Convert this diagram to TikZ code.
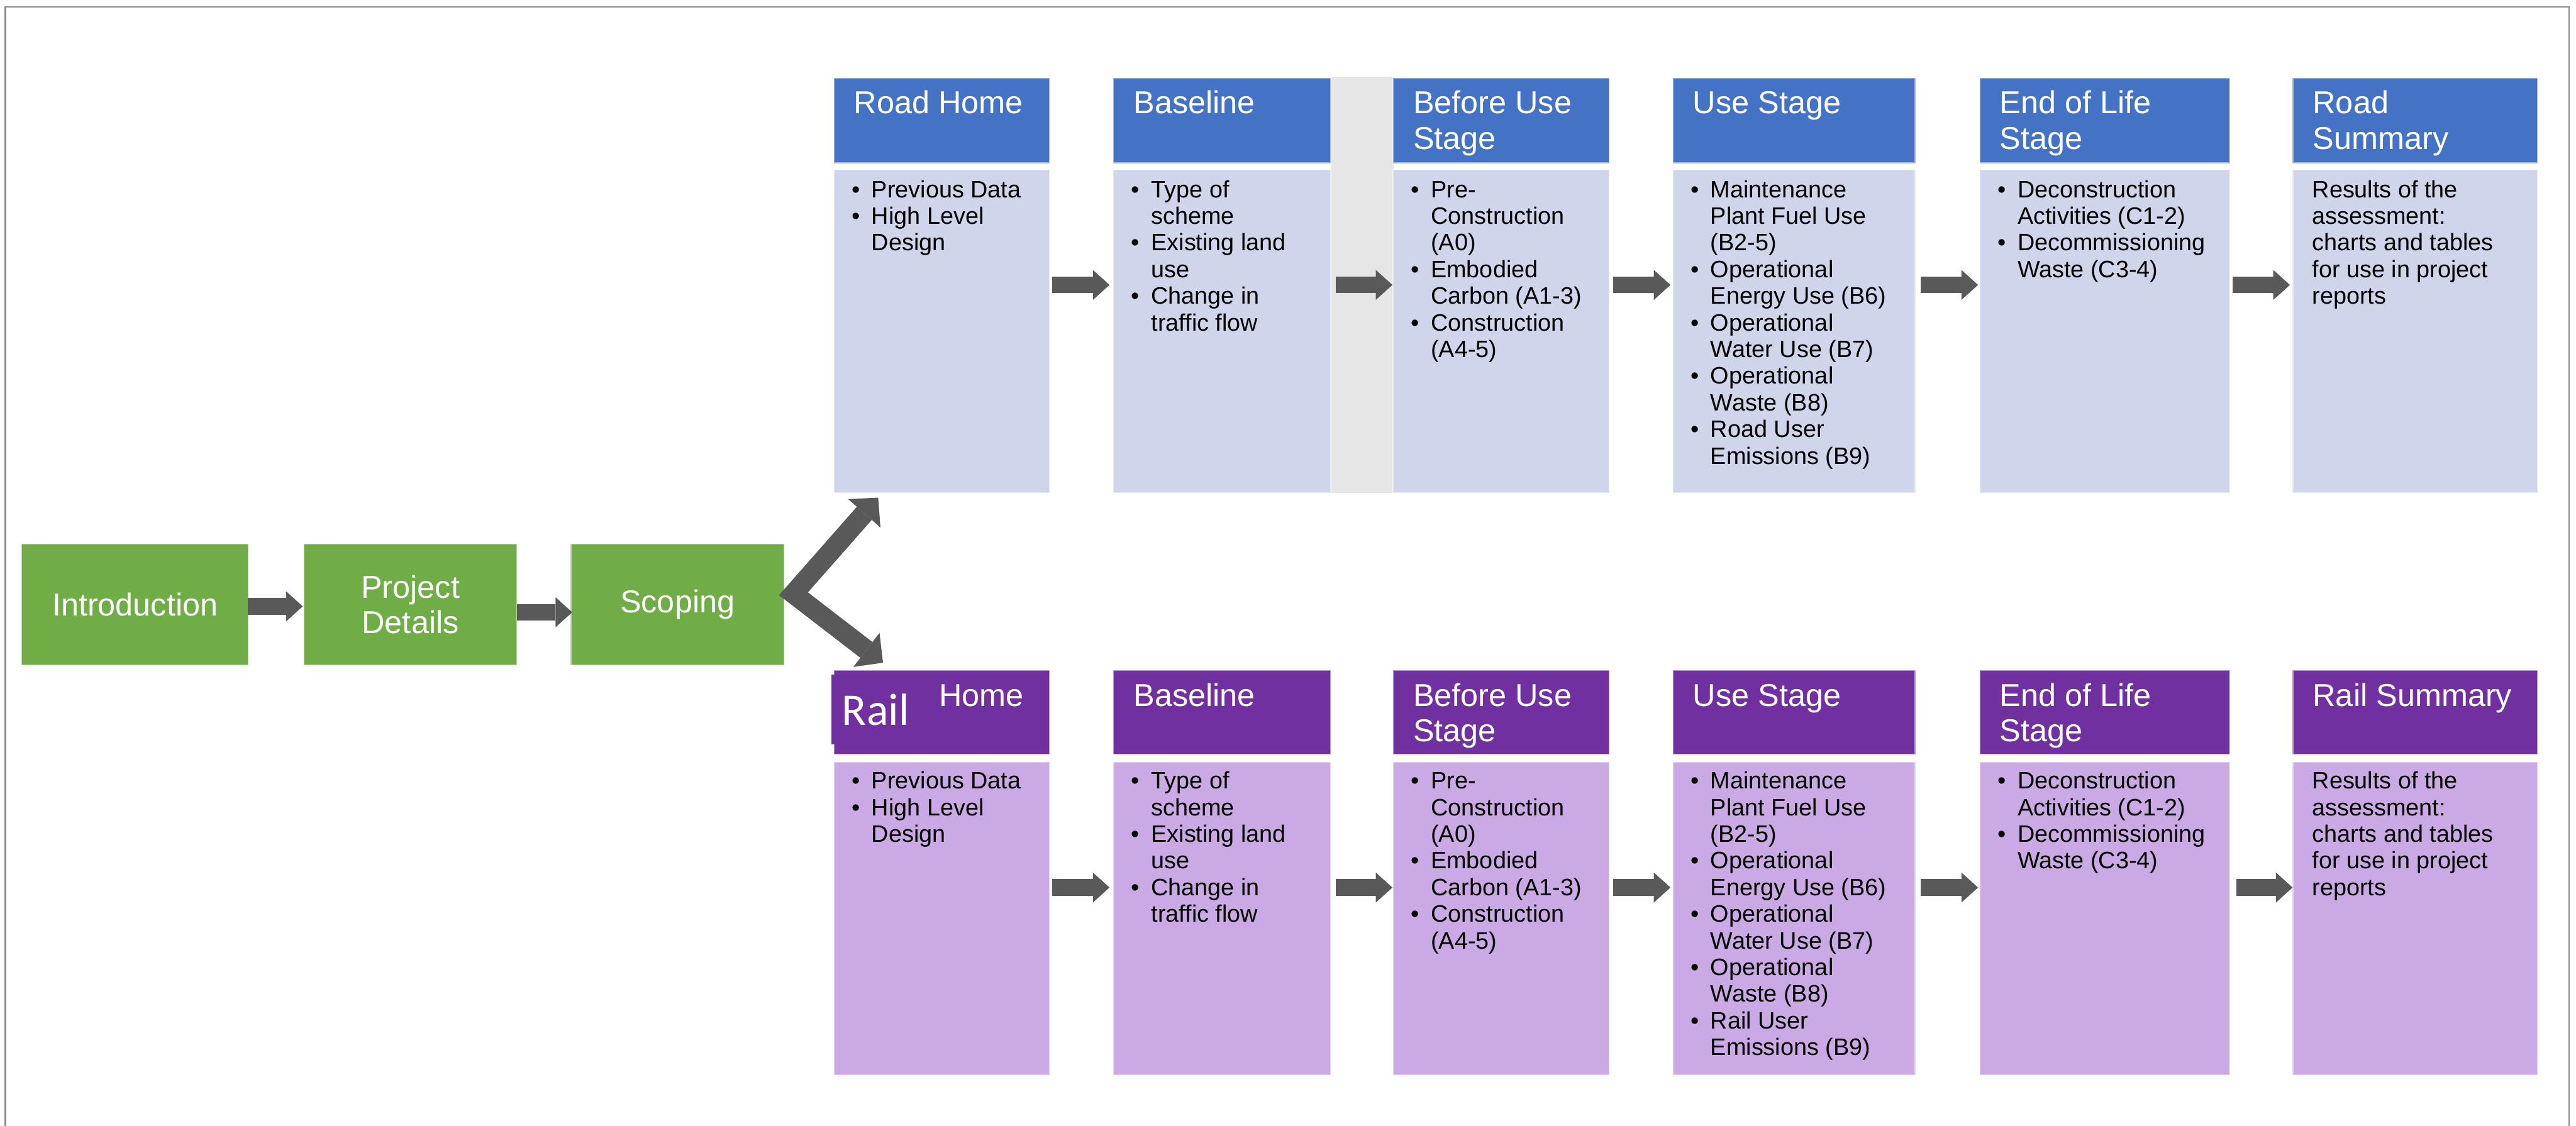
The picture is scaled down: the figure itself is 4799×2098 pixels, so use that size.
\documentclass[tikz,border=0pt]{standalone}
\usepackage{fontspec}
\setmainfont{Liberation Sans}
\newfontfamily\calibfont{Carlito}
\usetikzlibrary{arrows.meta,calc}
\definecolor{grn}{HTML}{70AD47}
\definecolor{blu}{HTML}{4472C4}
\definecolor{blubody}{HTML}{CFD5EA}
\definecolor{pur}{HTML}{7030A0}
\definecolor{purbody}{HTML}{CBA9E4}
\definecolor{panelgray}{HTML}{E6E6E6}
\definecolor{arrgray}{HTML}{595959}
\definecolor{framegray}{HTML}{8C8C8C}
\newcommand{\hfont}{\fontsize{16.8}{18.9}\selectfont}
\newcommand{\bfont}{\fontsize{12.6}{14.13}\selectfont}
\newcommand{\bitem}{\makebox[0.37cm][l]{\textbullet}}
\newcommand{\bcont}{\hspace*{0.37cm}}
\tikzset{
  box/.style={rectangle, inner sep=0pt, outer sep=0pt, anchor=north west,
    draw=white, draw opacity=0.5, line width=0.03cm},
  greenbox/.style={box, fill=grn, minimum height=2.27cm, text=white,
    font=\hfont, align=center},
  roadhdr/.style={box, fill=blu, minimum height=1.59cm},
  roadbody/.style={box, fill=blubody, minimum height=6.02cm},
  railhdr/.style={box, fill=pur, minimum height=1.57cm},
  railbody/.style={box, fill=purbody, minimum height=5.83cm},
  htext/.style={anchor=base west, inner sep=0pt, text=white, font=\hfont},
  btext/.style={anchor=base west, inner sep=0pt, text=black, font=\bfont},
  flow/.style={draw=arrgray, line width=0.31cm,
    -{Triangle[length=0.31cm,width=0.56cm,line width=0pt]}},
  chev/.style={draw=arrgray, line width=0.37cm, line join=miter,
    {Triangle[length=0.39cm,width=0.8cm,line width=0pt]}-{Triangle[length=0.39cm,width=0.8cm,line width=0pt]}},
}
\begin{document}
\begin{tikzpicture}[x=0.01cm,y=-0.01cm]
\useasboundingbox (0,0) rectangle (4799,2098);
% frame
\draw[framegray, line width=0.025cm] (10,2200) -- (10,13) -- (4786,13) -- (4786,2200);
% gray panel
\fill[panelgray] (2480,143) rectangle (2596,919);

% green row
\node[greenbox, minimum width=4.23cm] (intro) at (40,1013) {Introduction};
\node[greenbox, minimum width=3.97cm] (pd) at (566,1013) {Project\\Details};
\node[greenbox, minimum width=3.98cm] (scop) at (1063,1013) {Scoping};

% road row boxes
\node[roadhdr, minimum width=4.02cm] (rh1) at (1553,145) {};
\node[roadhdr, minimum width=4.05cm] (rh2) at (2074,145) {};
\node[roadhdr, minimum width=4.03cm] (rh3) at (2595,145) {};
\node[roadhdr, minimum width=4.52cm] (rh4) at (3116,145) {};
\node[roadhdr, minimum width=4.66cm] (rh5) at (3688,145) {};
\node[roadhdr, minimum width=4.56cm] (rh6) at (4271,145) {};
\node[roadbody, minimum width=4.02cm] (rb1) at (1553,316) {};
\node[roadbody, minimum width=4.05cm] (rb2) at (2074,316) {};
\node[roadbody, minimum width=4.03cm] (rb3) at (2595,316) {};
\node[roadbody, minimum width=4.52cm] (rb4) at (3116,316) {};
\node[roadbody, minimum width=4.66cm] (rb5) at (3688,316) {};
\node[roadbody, minimum width=4.56cm] (rb6) at (4271,316) {};

% rail row boxes
\node[railhdr, minimum width=4.02cm] (lh1) at (1553,1249) {};
\node[railhdr, minimum width=4.05cm] (lh2) at (2074,1249) {};
\node[railhdr, minimum width=4.03cm] (lh3) at (2595,1249) {};
\node[railhdr, minimum width=4.52cm] (lh4) at (3116,1249) {};
\node[railhdr, minimum width=4.66cm] (lh5) at (3688,1249) {};
\node[railhdr, minimum width=4.56cm] (lh6) at (4271,1249) {};
\node[railbody, minimum width=4.02cm] (lb1) at (1553,1420) {};
\node[railbody, minimum width=4.05cm] (lb2) at (2074,1420) {};
\node[railbody, minimum width=4.03cm] (lb3) at (2595,1420) {};
\node[railbody, minimum width=4.52cm] (lb4) at (3116,1420) {};
\node[railbody, minimum width=4.66cm] (lb5) at (3688,1420) {};
\node[railbody, minimum width=4.56cm] (lb6) at (4271,1420) {};

% road header texts
\node[htext] (rh1t) at ($(rh1.north west)+(37,67)$) {Road Home};
\node[htext] (rh2t) at ($(rh2.north west)+(37,67)$) {Baseline};
\node[htext] (rh3t) at ($(rh3.north west)+(37,67)$) {\begin{tabular}[t]{@{}l@{}}Before Use\\Stage\end{tabular}};
\node[htext] (rh4t) at ($(rh4.north west)+(37,67)$) {Use Stage};
\node[htext] (rh5t) at ($(rh5.north west)+(37,67)$) {\begin{tabular}[t]{@{}l@{}}End of Life\\Stage\end{tabular}};
\node[htext] (rh6t) at ($(rh6.north west)+(37,67)$) {\begin{tabular}[t]{@{}l@{}}Road\\Summary\end{tabular}};

% rail header texts
\fill[pur] (1549,1257) rectangle (1660,1387);
\node[anchor=base west, inner sep=0pt, text=white, font=\calibfont\fontsize{24}{28}\selectfont] (railt) at (1568,1352) {Rail};
\node[htext] (lh1t) at (1749,1316) {Home};
\node[htext] (lh2t) at ($(lh2.north west)+(37,67)$) {Baseline};
\node[htext] (lh3t) at ($(lh3.north west)+(37,67)$) {\begin{tabular}[t]{@{}l@{}}Before Use\\Stage\end{tabular}};
\node[htext] (lh4t) at ($(lh4.north west)+(37,67)$) {Use Stage};
\node[htext] (lh5t) at ($(lh5.north west)+(37,67)$) {\begin{tabular}[t]{@{}l@{}}End of Life\\Stage\end{tabular}};
\node[htext] (lh6t) at ($(lh6.north west)+(37,67)$) {Rail Summary};

% road body texts
\node[btext] (rb1t) at ($(rb1.north west)+(33,52)$) {\begin{tabular}[t]{@{}l@{}}\bitem Previous Data\\\bitem High Level\\\bcont Design\end{tabular}};
\node[btext] (rb2t) at ($(rb2.north west)+(33,52)$) {\begin{tabular}[t]{@{}l@{}}\bitem Type of\\\bcont scheme\\\bitem Existing land\\\bcont use\\\bitem Change in\\\bcont traffic flow\end{tabular}};
\node[btext] (rb3t) at ($(rb3.north west)+(33,52)$) {\begin{tabular}[t]{@{}l@{}}\bitem Pre-\\\bcont Construction\\\bcont (A0)\\\bitem Embodied\\\bcont Carbon (A1-3)\\\bitem Construction\\\bcont (A4-5)\end{tabular}};
\node[btext] (rb4t) at ($(rb4.north west)+(33,52)$) {\begin{tabular}[t]{@{}l@{}}\bitem Maintenance\\\bcont Plant Fuel Use\\\bcont (B2-5)\\\bitem Operational\\\bcont Energy Use (B6)\\\bitem Operational\\\bcont Water Use (B7)\\\bitem Operational\\\bcont Waste (B8)\\\bitem Road User\\\bcont Emissions (B9)\end{tabular}};
\node[btext] (rb5t) at ($(rb5.north west)+(33,52)$) {\begin{tabular}[t]{@{}l@{}}\bitem Deconstruction\\\bcont Activities (C1-2)\\\bitem Decommissioning\\\bcont Waste (C3-4)\end{tabular}};
\node[btext] (rb6t) at ($(rb6.north west)+(36,52)$) {\begin{tabular}[t]{@{}l@{}}Results of the\\assessment:\\charts and tables\\for use in project\\reports\end{tabular}};

% rail body texts
\node[btext] (lb1t) at ($(lb1.north west)+(33,50)$) {\begin{tabular}[t]{@{}l@{}}\bitem Previous Data\\\bitem High Level\\\bcont Design\end{tabular}};
\node[btext] (lb2t) at ($(lb2.north west)+(33,50)$) {\begin{tabular}[t]{@{}l@{}}\bitem Type of\\\bcont scheme\\\bitem Existing land\\\bcont use\\\bitem Change in\\\bcont traffic flow\end{tabular}};
\node[btext] (lb3t) at ($(lb3.north west)+(33,50)$) {\begin{tabular}[t]{@{}l@{}}\bitem Pre-\\\bcont Construction\\\bcont (A0)\\\bitem Embodied\\\bcont Carbon (A1-3)\\\bitem Construction\\\bcont (A4-5)\end{tabular}};
\node[btext] (lb4t) at ($(lb4.north west)+(33,50)$) {\begin{tabular}[t]{@{}l@{}}\bitem Maintenance\\\bcont Plant Fuel Use\\\bcont (B2-5)\\\bitem Operational\\\bcont Energy Use (B6)\\\bitem Operational\\\bcont Water Use (B7)\\\bitem Operational\\\bcont Waste (B8)\\\bitem Rail User\\\bcont Emissions (B9)\end{tabular}};
\node[btext] (lb5t) at ($(lb5.north west)+(33,50)$) {\begin{tabular}[t]{@{}l@{}}\bitem Deconstruction\\\bcont Activities (C1-2)\\\bitem Decommissioning\\\bcont Waste (C3-4)\end{tabular}};
\node[btext] (lb6t) at ($(lb6.north west)+(36,50)$) {\begin{tabular}[t]{@{}l@{}}Results of the\\assessment:\\charts and tables\\for use in project\\reports\end{tabular}};

% green arrows
\draw[flow] ($(intro.east |- 0,1130)+(-2,0)$) -- ($(pd.west |- 0,1130)+(-2,0)$);
\draw[flow] ($(pd.east |- 0,1141)$) -- ($(scop.west |- 0,1141)+(3,0)$);

% chevron from scoping to both rows
\coordinate (vtx) at ($(scop.east)+(17,-20)$);
\coordinate (uptip) at ($(rb1.south west)+(83,9)$);
\coordinate (dntip) at ($(lh1.north west)+(92,-14)$);
\draw[chev] (uptip) -- (vtx) -- (dntip);

% road arrows
\draw[flow] ($(rb1.east |- 0,531)+(5,0)$) -- ($(rb2.west |- 0,531)+(-7,0)$);
\draw[flow] ($(rb2.east |- 0,531)+(9,0)$) -- ($(rb3.west |- 0,531)+(-1,0)$);
\draw[flow] ($(rb3.east |- 0,531)+(7,0)$) -- ($(rb4.west |- 0,531)+(-4,0)$);
\draw[flow] ($(rb4.east |- 0,531)+(10,0)$) -- ($(rb5.west |- 0,531)+(-3,0)$);
\draw[flow] ($(rb5.east |- 0,531)+(5,0)$) -- ($(rb6.west |- 0,531)+(-5,0)$);

% rail arrows
\draw[flow] ($(lb1.east |- 0,1654)+(5,0)$) -- ($(lb2.west |- 0,1654)+(-7,0)$);
\draw[flow] ($(lb2.east |- 0,1654)+(9,0)$) -- ($(lb3.west |- 0,1654)+(-1,0)$);
\draw[flow] ($(lb3.east |- 0,1654)+(7,0)$) -- ($(lb4.west |- 0,1654)+(-4,0)$);
\draw[flow] ($(lb4.east |- 0,1654)+(10,0)$) -- ($(lb5.west |- 0,1654)+(-3,0)$);
\draw[flow] ($(lb5.east |- 0,1654)+(12,0)$) -- ($(lb6.west |- 0,1654)$);
\end{tikzpicture}
\end{document}
